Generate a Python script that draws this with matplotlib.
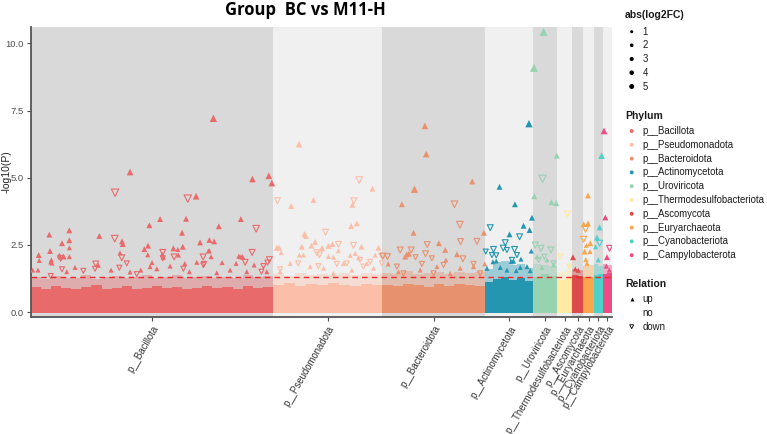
import numpy as np
import matplotlib.pyplot as plt

# phyla in plotting order, number of features in each block and colours
phylum = ['p__Bacillota', 'p__Pseudomonadota', 'p__Bacteroidota', 'p__Actinomycetota',
          'p__Uroviricota', 'p__Thermodesulfobacteriota', 'p__Ascomycota',
          'p__Euryarchaeota', 'p__Cyanobacteriota', 'p__Campylobacterota']
n_features = [2417, 1096, 1027, 477, 245, 146, 114, 101, 94, 90]
colors = ['#E96A6B', '#FBBEA8', '#E8916F', '#2596B0', '#97D2B1',
          '#FEEAA3', '#DC4B4C', '#F9A64E', '#4DD0C8', '#EC4B83']

# envelope of the non significant ("no") features: dense core and sparse fringe
core_top = [
    [0.92, 0.85, 0.97, 0.88, 0.84, 0.93, 0.99, 0.87, 0.90, 0.95, 0.86, 0.91, 0.97, 0.88, 0.93,
     0.85, 0.90, 0.96, 0.89, 0.92, 0.87, 0.98, 0.91, 0.94],
    [1.00, 1.07, 0.96, 1.04, 0.99, 1.08, 1.01, 0.97, 1.05, 1.00],
    [1.00, 0.95, 1.04, 0.99, 0.94, 1.05, 0.98, 1.06, 1.01, 0.97],
    [1.12, 1.24, 1.30, 1.18, 1.26, 1.15],
    [1.30, 1.40, 1.34],
    [1.20, 1.25],
    [1.38, 1.35],
    [1.30, 1.32],
    [1.38, 1.40],
    [1.42, 1.45],
]
fringe_top = [
    [1.32, 1.22, 1.34, 1.25, 1.28, 1.36, 1.24, 1.30, 1.35, 1.26, 1.30, 1.37, 1.27, 1.31, 1.36,
     1.25, 1.30, 1.34, 1.26, 1.32, 1.28, 1.36, 1.30, 1.33],
    [1.40, 1.35, 1.47, 1.38, 1.42, 1.36, 1.45, 1.38, 1.44, 1.40],
    [1.45, 1.40, 1.52, 1.42, 1.47, 1.50, 1.41, 1.48, 1.44, 1.50],
    [1.60, 1.85, 1.90, 1.75, 1.80, 1.65],
    [1.80, 1.75, 1.70],
    [1.50, 1.55],
    [1.60, 1.55],
    [1.70, 1.75],
    [1.80, 1.70],
    [1.80, 1.75],
]

# significant features: position (feature index), -log10(P), abs(log2FC)
up_pos = [1823, 990, 2213, 2377, 2407, 1650, 1290, 1550, 2097, 1183, 1877, 1510, 183, 383, 683,
          310, 383, 910, 917, 1690, 1783, 1830, 1170, 1517, 1133, 1423, 190, 77, 1167, 1313,
          1783, 2090, 2117, 283, 323, 383, 383, 197, 1323, 1537, 1657, 1773, 1800, 1910, 2077,
          2110, 2050, 2230, 1990, 1210, 1257, 1390, 1583, 1857, 2157, 2357, 1467, 1473, 83, 203,
          210, 290, 330, 890, 17, 70, 357, 440, 673, 800, 990, 1097, 1190,
          2680, 3413, 2823, 2600, 3213, 3257, 3200, 2733, 2747, 2707, 2803, 2840, 2910, 2973,
          3013, 3303, 3473, 2457, 2480, 2973, 3023, 3073, 3190, 3240, 3273, 2683, 2723, 2500,
          3440, 2590, 2790, 2923, 3123, 3357, 3423, 2490, 3207, 3023,
          3937, 3950, 4410, 3833, 3707, 3823, 4527, 4077, 4140, 3757, 3740, 3777, 4257, 4147,
          4535, 3570, 4057, 4290, 3890, 4423, 3673, 4190,
          4977, 4683, 4837, 5007, 4923, 4983, 4783, 5000, 4897, 4797, 4823, 4650, 4617, 4957,
          4690, 4890, 4557, 4757, 4990, 4850,
          5123, 5027, 5255, 5030, 5200, 5250, 5057, 5157, 5223, 5107,
          5390,
          5417, 5440, 5470,
          5567, 5523, 5567, 5590, 5550, 5533, 5587, 5557, 5545,
          5703, 5683, 5657, 5643, 5670,
          5727, 5740, 5757, 5750, 5780]
up_logp = [7.21, 5.21, 4.95, 5.07, 4.80, 4.31, 3.46, 3.47, 3.46, 3.23, 3.19, 2.95, 2.88, 3.04, 2.83,
           2.56, 2.67, 2.63, 2.53, 2.59, 2.68, 2.63, 2.47, 2.43, 2.34, 2.37, 2.27, 2.12, 2.13, 2.15,
           2.28, 2.06, 2.04, 2.11, 2.08, 2.06, 2.39, 1.86, 2.04, 1.81, 1.85, 2.27, 2.06, 1.84, 2.08,
           2.06, 1.81, 1.75, 1.56, 1.84, 1.61, 1.71, 1.50, 1.46, 1.50, 1.50, 2.33, 2.12, 1.92, 1.94,
           1.82, 2.05, 2.05, 2.20, 1.56, 1.56, 1.50, 1.66, 1.74, 1.56, 1.49, 1.56, 1.69,
           6.25, 4.59, 4.17, 3.94, 3.99, 3.30, 3.20, 2.90, 2.83, 2.43, 2.47, 2.61, 2.38, 2.46,
           2.53, 2.43, 2.39, 2.39, 2.39, 2.07, 2.04, 2.28, 2.11, 2.18, 2.02, 2.12, 2.12, 2.21,
           2.12, 1.81, 1.69, 1.63, 1.81, 1.81, 1.63, 1.50, 1.56, 1.44,
           6.93, 5.88, 4.86, 4.57, 4.01, 2.95, 2.95, 2.56, 2.31, 2.15, 2.06, 2.17, 2.15, 1.94,
           1.79, 1.79, 1.69, 1.63, 1.56, 1.69, 1.50, 1.44,
           7.01, 4.66, 4.01, 3.51, 3.21, 3.05, 2.89, 2.27, 1.97, 1.87, 1.89, 1.90, 1.87, 1.69,
           1.66, 1.66, 1.63, 1.56, 1.54, 1.54,
           10.43, 9.09, 5.82, 4.31, 4.09, 4.05, 2.06, 1.94, 1.75, 1.66,
           1.75,
           2.04, 1.60, 1.55,
           4.34, 3.27, 3.30, 2.56, 2.48, 2.25, 2.25, 1.81, 1.95,
           5.82, 3.15, 2.77, 2.43, 1.94,
           6.74, 3.52, 2.04, 1.71, 1.56]
up_fc = [4, 3, 3, 3, 3, 3, 2, 2, 2, 2, 2, 2, 2, 2, 2,
         2, 2, 2, 2, 2, 2, 2, 2, 2, 2, 2, 2, 2, 1, 1,
         1, 1, 1, 1, 1, 1, 1, 1, 1, 1, 1, 1, 1, 1, 1,
         1, 1, 1, 1, 1, 1, 1, 1, 1, 1, 1, 1, 1, 1, 1,
         1, 1, 1, 1, 1, 1, 1, 1, 1, 1, 1, 1, 1,
         3, 2, 2, 2, 2, 2, 2, 2, 2, 2, 2, 2, 2, 2,
         2, 2, 2, 2, 2, 1, 1, 1, 1, 1, 1, 1, 1, 1,
         1, 1, 1, 1, 1, 1, 1, 1, 1, 1,
         3, 3, 2, 4, 2, 2, 2, 2, 2, 2, 2, 2, 2, 1,
         1, 1, 1, 1, 1, 1, 1, 1,
         4, 2, 2, 2, 2, 2, 2, 1, 1, 1, 1, 1, 1, 1,
         1, 1, 1, 1, 1, 1,
         5, 5, 2, 2, 2, 2, 1, 1, 1, 1,
         1,
         2, 1, 1,
         2, 2, 2, 2, 1, 2, 1, 1, 1,
         3, 2, 2, 1, 1,
         3, 2, 2, 1, 1]

down_pos = [840, 1567, 2250, 837, 2210, 1317, 1430, 1720, 907, 2383, 297, 647, 2140, 310, 523,
            1523, 1730, 2323, 957, 883, 197, 640, 1057, 1317, 2363, 2303, 1723,
            3280, 2463, 3227, 2943, 3073, 3223, 2857, 2883, 3507, 2670, 2873, 3057, 3290, 3390,
            3507, 3157, 2490, 3323,
            4233, 4287, 4293, 4457, 3960, 3690, 3800, 3943, 4317, 3517, 3563, 3843, 4007, 3657,
            3907, 4123, 4423, 4490, 3723, 4023,
            4590, 4883, 4740, 4833, 4623, 4720, 4545, 4650, 4757, 4857, 4607, 4807,
            5113, 5040, 5097, 5197, 5073, 5130, 5223,
            5363, 5290, 5380,
            5543, 5523,
            5683,
            5783]
down_logp = [4.44, 4.22, 3.10, 2.73, 2.22, 2.22, 2.05, 2.05, 2.02, 1.95, 2.00, 1.79, 1.85, 1.59, 1.53,
             1.61, 1.79, 1.71, 1.81, 1.65, 1.34, 1.61, 1.41, 2.00, 1.84, 1.50, 1.75,
             4.91, 4.14, 4.14, 2.97, 2.52, 2.48, 2.21, 2.13, 2.08, 1.81, 1.71, 1.79, 1.94, 1.87,
             1.81, 1.81, 1.59, 1.69,
             4.01, 3.25, 2.62, 2.63, 2.51, 2.31, 2.31, 2.17, 1.98, 2.08, 2.06, 2.04, 2.00, 1.69,
             1.79, 1.75, 1.79, 1.44, 1.44, 1.44,
             3.14, 2.80, 2.58, 2.33, 2.33, 2.38, 2.25, 2.11, 2.31, 2.12, 2.12, 1.94,
             4.96, 2.49, 2.37, 2.31, 1.94, 2.06, 1.81,
             3.65, 2.06, 1.69,
             3.08, 2.71,
             2.56,
             2.37]
down_fc = [4, 4, 3, 3, 2, 2, 2, 2, 2, 2, 2, 2, 2, 1, 1,
           1, 1, 1, 1, 1, 1, 1, 1, 1, 1, 1, 1,
           3, 2, 2, 2, 2, 2, 2, 2, 2, 1, 1, 1, 1, 1,
           1, 1, 1, 1,
           3, 3, 2, 2, 2, 2, 2, 2, 2, 2, 2, 1, 1, 1,
           1, 1, 1, 1, 1, 1,
           2, 2, 2, 2, 2, 2, 1, 1, 1, 1, 1, 1,
           4, 2, 2, 2, 1, 1, 1,
           2, 1, 1,
           2, 2,
           2,
           2]

fc_levels = [1, 2, 3, 4, 5]
relations = ['up', 'no', 'down']
threshold = -np.log10(0.05)

plt.rcParams['font.family'] = ['Liberation Sans', 'DejaVu Sans']
axis_grey = '#4D4D4D'

edges = np.concatenate([[0], np.cumsum(n_features)])
mids = (edges[:-1] + edges[1:]) / 2


def tri_size(fc):
    return 8 + 5 * np.asarray(fc, dtype=float)


fig = plt.figure(figsize=(7.67, 4.34), dpi=100)
ax = fig.add_axes([31 / 767, 1 - 317 / 434, 581 / 767, 290 / 434])

# alternating phylum background
for i in range(len(phylum)):
    ax.axvspan(edges[i], edges[i + 1], color='#D9D9D9' if i % 2 == 0 else '#F0F0F0',
               lw=0, zorder=0)

# bulk of non significant features
for i in range(len(phylum)):
    fe = np.linspace(edges[i], edges[i + 1], len(fringe_top[i]) + 1)
    ax.stairs(fringe_top[i], fe, baseline=0, fill=True, color=colors[i], alpha=0.4, lw=0, zorder=1)
    ce = np.linspace(edges[i], edges[i + 1], len(core_top[i]) + 1)
    ax.stairs(core_top[i], ce, baseline=-0.03, fill=True, color=colors[i], lw=0, zorder=2)

up_pos = np.array(up_pos)
down_pos = np.array(down_pos)
up_col = [colors[k] for k in np.searchsorted(edges, up_pos, side='right') - 1]
down_col = [colors[k] for k in np.searchsorted(edges, down_pos, side='right') - 1]

ax.scatter(up_pos, up_logp, s=tri_size(up_fc), marker='^', c=up_col, lw=0, zorder=3)
ax.scatter(down_pos, down_logp, s=tri_size(down_fc), marker='v', facecolors='none',
           edgecolors=down_col, lw=0.8, zorder=3)

ax.axhline(threshold, color='#F0262B', lw=1.0, ls=(0, (4, 3)), zorder=4)

ax.set_xlim(0, edges[-1])
ax.set_ylim(-0.186, 10.61)
ax.set_yticks([0, 2.5, 5, 7.5, 10])
ax.set_yticklabels(['0.0', '2.5', '5.0', '7.5', '10.0'])
ax.set_xticks(mids)
ax.set_xticklabels(phylum, rotation=60, ha='right', va='top', rotation_mode='anchor')
ax.tick_params(colors=axis_grey, labelsize=6.8, length=3, width=0.8, pad=2)
ax.tick_params(axis='x', labelcolor='#333333', labelsize=6.9)
for side in ['top', 'right']:
    ax.spines[side].set_visible(False)
for side in ['left', 'bottom']:
    ax.spines[side].set_color('#555555')
    ax.spines[side].set_linewidth(1.3)

fig.text(6.5 / 767, 1 - 172 / 434, '-log10(P)', rotation=90, ha='center', va='center',
         fontsize=7.5, color='#222222')
fig.text(305 / 767, 1 - 14.7 / 434, 'Group  BC vs M11-H', ha='center', va='baseline',
         fontsize=12, fontweight='bold', family='Open Sans')

# legends, drawn in pixel coordinates
lg = fig.add_axes([0, 0, 1, 1], facecolor='none')
lg.set_xlim(0, 767)
lg.set_ylim(434, 0)
lg.axis('off')
lx, tx = 631.7, 642.5
lab = dict(fontsize=6.9, va='center', ha='left', color='#1A1A1A')
tit = dict(fontsize=7.5, va='center', ha='left', fontweight='bold', color='#1A1A1A')

lg.text(625, 15.5, 'abs(log2FC)', **tit)
fc_y = [31.7, 45.3, 59.0, 72.7, 86.5]
lg.scatter([lx] * len(fc_levels), fc_y, s=[2.8 + 2 * f for f in fc_levels], c='black', lw=0)
for f, y in zip(fc_levels, fc_y):
    lg.text(tx, y, str(f), **lab)

lg.text(625, 115.7, 'Phylum', **tit)
ph_y = 131 + 13.8 * np.arange(len(phylum))
lg.scatter([lx] * len(phylum), ph_y, s=8, c=colors, lw=0)
for p, y in zip(phylum, ph_y):
    lg.text(tx, y, p, **lab)

lg.text(625, 283.7, 'Relation', **tit)
rel_y = [299.3, 313.3, 326.7]
lg.scatter([lx], [rel_y[0]], s=8, marker='^', c='black', lw=0)
lg.scatter([lx], [rel_y[2]], s=8, marker='v', facecolors='none', edgecolors='black', lw=0.6)
for r, y in zip(relations, rel_y):
    lg.text(tx, y, r, **lab)

fig.savefig('out.png', dpi=100)
